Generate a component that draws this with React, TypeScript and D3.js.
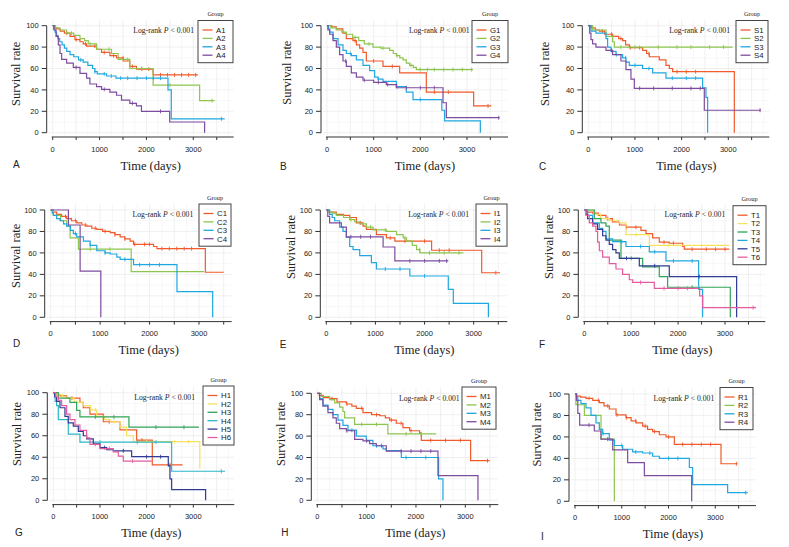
import React from "react";
import * as d3 from "d3";

type Pt = [number, number];

// ---------- DATA (time in days, survival in %) ----------
// Panel A
const A1: Pt[] = [[0,100],[40,98],[85,97],[160,95],[250,93],[369,90],[475,87],[582,85],[650,83],[723,81],[936,78],[1043,75],[1220,72],[1362,70],[1504,67],[1645,62],[1787,59.5],[2142,54],[3099,54]];
const A2: Pt[] = [[0,100],[60,98],[150,96],[298,93],[450,91],[582,88],[680,86],[759,83],[936,78],[1255,74],[1397,68.5],[1645,60],[2142,44.5],[3135,30],[3454,30]];
const A3: Pt[] = [[0,100],[20,97],[50,94],[80,91],[110,88],[150,85],[200,82],[250,79],[300,76],[370,73],[450,71],[550,68],[650,66],[750,63],[850,60],[900,57],[950,55],[1150,53],[1350,51],[2460,40],[2530,13],[3670,13]];
const A4: Pt[] = [[0,100],[28,96],[71,90],[120,82],[156,74],[191,68.5],[298,65],[440,61],[582,55.5],[723,51],[794,45.5],[936,43],[1043,40.5],[1220,38],[1362,35],[1468,30.5],[1645,27.5],[1787,25],[1894,20],[2496,10],[3241,0]];
const A1c = [300,500,700,900,1100,1300,1500,1700,1900,2050,2300,2450,2600,2750,2900,3050];
const A2c = [400,800,1200,1600,1900,2500,3400];
const A3c = [600,900,1100,1250,1450,1600,1800,2000,2150,2300,3600];
const A4c = [500,1100,1700,2300];

// Panel B
const G1: Pt[] = [[0,100],[100,99],[200,97],[340,93],[414,88],[557,86],[630,82],[700,79],[771,75],[843,67],[1200,62],[1557,56],[2128,38],[3143,25],[3521,25]];
const G2: Pt[] = [[0,100],[80,98],[200,96],[320,94],[414,92],[550,89],[680,86],[800,83],[986,80],[1150,79],[1343,77],[1420,74],[1486,72],[1560,70],[1629,68],[1700,65],[1771,63],[1850,61],[1914,59],[3129,59]];
const G3: Pt[] = [[0,100],[30,97],[57,94],[129,88],[236,82],[343,77],[414,74],[521,72],[629,68],[771,63],[914,58],[1021,52],[1093,50],[1200,48],[1486,43],[1700,38],[1843,31],[2460,21],[2521,11],[3286,0]];
const G4: Pt[] = [[0,100],[20,96],[57,92],[129,86],[200,80],[271,73],[343,67],[414,62],[521,56],[629,52],[771,49],[1000,47],[1271,45],[1486,42],[2486,28],[2557,14],[3700,14]];
const G1c = [600,1000,1400,2300,2600,3450];
const G2c = [600,900,1200,1500,1800,2000,2150,2300,2500,2700,2900,3100];
const G3c = [500,1100,1500,2000];
const G4c = [400,800,1100,1300,1700,2000,2300,3680];

// Panel C
const S1: Pt[] = [[0,100],[60,98],[150,96],[236,95],[350,92],[521,90],[650,88],[736,86],[800,82],[879,79.5],[1164,77],[1250,74],[1307,71],[1521,68],[1664,63],[1736,60],[1807,57],[3129,0]];
const S2: Pt[] = [[0,100],[93,96],[379,90],[521,85],[557,80],[3093,80]];
const S3: Pt[] = [[0,100],[57,95],[164,93],[379,88],[414,80],[486,76],[593,73],[736,70],[807,66],[879,63],[1164,60],[1379,56],[1664,51],[2450,42],[2521,33],[2557,0]];
const S4: Pt[] = [[0,100],[30,93],[57,87],[93,83],[164,80],[379,77],[521,73],[700,67],[807,59],[914,50],[986,41.5],[2486,21],[3700,21]];
const S1c = [300,500,700,900,1100,1300,1900,2100,2300];
const S2c = [700,1000,1500,1900,2200,2600,2900];
const S3c = [600,800,1000,1300,1800,2100,2300];
const S4c = [500,1100,1400,1800,2200,2400,3680];

// Panel D
const C1: Pt[] = [[0,100],[50,98],[122,96],[220,94],[324,92],[420,90],[527,88],[630,86],[730,85],[830,83],[932,82],[1050,80],[1203,79],[1300,77],[1405,75],[1500,73],[1608,71],[1676,68],[2081,66],[2149,64],[3128,42],[3500,42]];
const C2: Pt[] = [[0,100],[54,95],[200,90],[324,85],[392,74],[561,63.5],[1628,42.5],[3100,42.5]];
const C3: Pt[] = [[0,100],[30,97],[54,95],[120,92],[189,90],[260,87],[324,85],[400,81],[459,78],[527,75],[662,71],[797,67],[932,62],[1100,60],[1203,59],[1338,56],[1405,54],[1676,49],[2554,24],[3277,0]];
const C4: Pt[] = [[0,100],[358,86],[595,43],[1014,0]];
const C1c = [300,500,700,900,1100,1300,1500,1700,1900,2000,2250,2400,2550,2700,2850];
const C2c = [800,1200];
const C3c = [500,800,1100,1500,1800,2000,2200];
const C4c: number[] = [];

// Panel E
const I1: Pt[] = [[0,100],[60,98],[204,96],[350,95],[476,93],[612,88],[748,85],[816,82],[1020,77],[1224,74],[1395,71],[2143,62.5],[3163,41.5],[3537,41.5]];
const I2: Pt[] = [[0,100],[50,98],[120,97],[204,95],[350,93],[476,91],[580,89],[680,87],[816,84],[952,81.5],[1224,80],[1429,77],[1565,74],[1633,71],[1750,67],[1837,63],[1905,60],[2789,60]];
const I3: Pt[] = [[0,100],[68,96],[120,93],[170,90],[272,84],[340,80],[408,74.5],[476,66],[544,63],[680,57.5],[918,51],[1020,45],[1701,38.5],[2483,26],[2585,13],[3299,0]];
const I4: Pt[] = [[0,100],[30,94],[68,88],[306,84],[408,75],[1156,65.5],[1395,52.5],[2483,52.5]];
const I1c = [700,1300,1600,2000,2300,2500,3450];
const I2c = [500,900,1200,1600,1900,2100,2400,2700];
const I3c = [1200,1500,2000];
const I4c = [500,700,900,1700,2000,2300,2450];

// Panel F
const T1: Pt[] = [[0,100],[60,98],[178,97],[300,95],[462,92],[600,89],[750,86],[888,84],[1208,81],[1315,78],[1457,74],[1599,70],[1812,69],[2097,66],[2132,63.5],[3092,63.5]];
const T2: Pt[] = [[0,100],[200,96],[350,92],[533,90],[750,88],[888,77],[1386,67],[3092,67]];
const T3: Pt[] = [[0,100],[213,92],[355,88],[462,85],[533,72],[782,55],[1244,47],[1599,38],[1777,28],[3113,0]];
const T4: Pt[] = [[0,100],[71,95],[178,88],[320,83],[391,80],[462,73],[604,70.5],[888,66],[1386,61],[1741,52.5],[2438,26],[2523,0]];
const T5: Pt[] = [[0,100],[40,96],[71,92],[178,87],[284,82],[391,76],[462,72],[533,68],[604,63],[675,60],[746,55],[1173,48],[1812,38],[3248,0]];
const T6: Pt[] = [[0,100],[36,95],[107,88],[178,85],[249,80],[284,70],[320,62],[391,56],[533,50],[675,45],[817,40],[960,35],[1031,32.5],[1493,27],[2460,20],[2523,9],[3660,9]];
const T1c = [500,900,1100,1700,1900,2300,2600,2800,3000];
const T2c = [700,1100,1800,2500];
const T3c = [1000,2300];
const T4c = [800,1200,1500,1900,2300];
const T5c = [900,1500,2450];
const T6c = [1200,1700,2000,2200,3600];

// Panel G
const H1: Pt[] = [[0,100],[60,98],[143,97],[286,95],[571,91],[643,86],[786,80],[1071,73],[1429,65.5],[1786,56],[2121,33],[2771,33]];
const H2: Pt[] = [[0,100],[80,98],[200,96],[286,95],[450,91],[643,88],[800,84],[929,78],[1100,75],[1214,73],[1429,68],[1571,60],[1714,54.5],[3140,30],[3145,30]];
const H3: Pt[] = [[0,100],[107,95],[357,91],[500,83.5],[571,77.5],[1621,68],[3121,68]];
const H4: Pt[] = [[0,100],[40,92],[71,88],[107,75],[321,61.5],[571,54],[2536,27],[3679,27]];
const H5: Pt[] = [[0,100],[30,96],[71,92],[143,86],[250,78],[321,72],[429,69],[536,64],[643,60],[714,57],[857,52.5],[1000,49],[1143,47],[1286,46],[1679,40.5],[2464,32],[2500,20],[2536,10],[3264,0]];
const H6: Pt[] = [[0,100],[50,96],[107,93],[179,88],[286,80],[357,75],[464,70],[571,65],[714,58],[786,52],[1000,48],[1286,45],[1393,41],[1500,36.5],[2110,36.5]];
const H1c = [400,1200,1900,2500];
const H2c = [500,900,1300,2000,2600,2900];
const H3c = [900,1300,2200,2800];
const H4c = [1000,1800,2200,3600];
const H5c = [1100,1500,2000,2300];
const H6c = [900,1200,1700];

// Panel H
const M1: Pt[] = [[0,100],[40,98],[120,96],[250,95],[400,92],[588,90],[700,88],[791,86],[926,82],[1100,80],[1264,79],[1380,77],[1466,75],[1601,72],[1736,68],[1872,65],[2074,63],[2108,56],[3108,37],[3493,37]];
const M2: Pt[] = [[0,100],[81,97],[250,94],[351,91],[453,87],[520,83],[554,77],[757,71],[1430,62],[2412,62]];
const M3: Pt[] = [[0,100],[47,95],[115,89],[216,85],[318,80],[419,75],[520,70],[622,65.5],[791,60],[993,56],[1128,51],[1331,48],[1399,46.5],[1703,40],[2459,20],[2547,0]];
const M4: Pt[] = [[0,100],[47,94],[115,88],[216,82],[318,77],[385,72],[453,67],[588,65],[757,57],[926,55.5],[1061,53],[1196,51],[1399,46],[2446,23],[3257,0]];
const M1c = [300,600,900,1200,1500,1700,1900,2300,2600,2900,3450];
const M2c = [900,1200,1800,2100];
const M3c = [700,1200,1800,2200];
const M4c = [600,1000,1300,1700,1900,2100,2300];

// Panel I
const R1: Pt[] = [[0,100],[40,98],[120,97],[235,96],[380,94],[520,92],[620,89],[734,86],[877,80.5],[1090,78],[1200,75],[1304,73],[1447,70],[1550,67],[1661,65],[1803,62],[1946,60],[2124,53],[3122,35],[3478,35]];
const R2: Pt[] = [[0,100],[20,90],[200,80],[556,58],[841,0]];
const R3: Pt[] = [[0,100],[30,97],[60,94],[128,91],[235,87],[342,80],[449,73],[520,67],[592,63],[734,57],[841,52],[1019,48.5],[1233,46],[1447,45],[1661,42],[1803,40],[2445,31.5],[2516,15.5],[3264,8],[3692,8]];
const R4: Pt[] = [[0,100],[30,94],[60,82],[100,71],[413,65.5],[556,58],[806,48],[1126,36],[1483,24],[2495,0]];
const R1c = [300,500,700,900,1100,1300,1500,1700,2000,2300,2500,2700,2900,3450];
const R2c: number[] = [];
const R3c = [600,1000,1300,1600,2000,2200,3650];
const R4c = [300,700];

const xTicks = [0, 500, 1000, 1500, 2000, 2500, 3000, 3500];
const xLabels = [0, 1000, 2000, 3000];
const yTicks = [0, 20, 40, 60, 80, 100];

// ---------- STYLE ----------
const RED = "#F15A2B";
const LGREEN = "#8DC54F";
const CYAN = "#1FA7E1";
const PURPLE = "#7D4C9F";
const YELLOW = "#F5E15E";
const DGREEN = "#2FA457";
const NAVY = "#2F3B94";
const PINK = "#E45C9E";
const TEAL = "#2BB7C8";

interface Curve { name: string; color: string; steps: Pt[]; cens: number[] }
interface Panel {
  letter: string; curves: Curve[];
  x0: number; x3: number; y100: number; y0: number;
  leg: [number, number, number]; lrX: number; lrY: number;
  ylab: [number, number]; let: [number, number];
}

const mk = (names: string[], colors: string[], steps: Pt[][], cens: number[][]): Curve[] =>
  names.map((n, i) => ({ name: n, color: colors[i], steps: steps[i], cens: cens[i] }));

const C4col = [RED, LGREEN, CYAN, PURPLE];

const PANELS: Panel[] = [
  { letter: "A", curves: mk(["A1","A2","A3","A4"], C4col, [A1,A2,A3,A4], [A1c,A2c,A3c,A4c]),
    x0: 52.7, x3: 193.3, y100: 25.7, y0: 132.7, leg: [198, 20.5, 35], lrX: 194, lrY: 33.3, ylab: [20, 73.8], let: [13, 168.3] },
  { letter: "B", curves: mk(["G1","G2","G3","G4"], C4col, [G1,G2,G3,G4], [G1c,G2c,G3c,G4c]),
    x0: 327, x3: 467, y100: 25.7, y0: 132.7, leg: [472, 20.5, 36], lrX: 469.7, lrY: 33.3, ylab: [291, 72.7], let: [280, 170] },
  { letter: "C", curves: mk(["S1","S2","S3","S4"], C4col, [S1,S2,S3,S4], [S1c,S2c,S3c,S4c]),
    x0: 588.3, x3: 728.3, y100: 25.7, y0: 132.7, leg: [736, 20.5, 32], lrX: 730, lrY: 33.3, ylab: [549, 73.8], let: [539, 170] },
  { letter: "D", curves: mk(["C1","C2","C3","C4"], C4col, [C1,C2,C3,C4], [C1c,C2c,C3c,C4c]),
    x0: 50.7, x3: 199, y100: 210, y0: 317.3, leg: [199, 204, 32], lrX: 193.3, lrY: 216.7, ylab: [19.5, 255.8], let: [13, 346.7] },
  { letter: "E", curves: mk(["I1","I2","I3","I4"], C4col, [I1,I2,I3,I4], [I1c,I2c,I3c,I4c]),
    x0: 326.3, x3: 473.7, y100: 210, y0: 317.3, leg: [476, 204, 31], lrX: 469, lrY: 216.7, ylab: [294.7, 247], let: [279.7, 348.3] },
  { letter: "F", curves: mk(["T1","T2","T3","T4","T5","T6"], [RED, YELLOW, DGREEN, CYAN, NAVY, PINK], [T1,T2,T3,T4,T5,T6], [T1c,T2c,T3c,T4c,T5c,T6c]),
    x0: 584.3, x3: 725, y100: 210, y0: 317.3, leg: [733, 205.7, 33], lrX: 725.3, lrY: 216.7, ylab: [552.7, 246.8], let: [539, 348.3] },
  { letter: "G", curves: mk(["H1","H2","H3","H4","H5","H6"], [RED, YELLOW, DGREEN, TEAL, NAVY, PINK], [H1,H2,H3,H4,H5,H6], [H1c,H2c,H3c,H4c,H5c,H6c]),
    x0: 53.3, x3: 193.3, y100: 392.7, y0: 500.3, leg: [203, 386, 31], lrX: 195, lrY: 400, ylab: [20.7, 434], let: [15, 536] },
  { letter: "H", curves: mk(["M1","M2","M3","M4"], C4col, [M1,M2,M3,M4], [M1c,M2c,M3c,M4c]),
    x0: 317.3, x3: 465.3, y100: 393.3, y0: 500.3, leg: [462, 387, 34], lrX: 459.7, lrY: 400.5, ylab: [284.7, 433.8], let: [281.3, 536] },
  { letter: "I", curves: mk(["R1","R2","R3","R4"], C4col, [R1,R2,R3,R4], [R1c,R2c,R3c,R4c]),
    x0: 575, x3: 715.3, y100: 394, y0: 501.3, leg: [720, 387.5, 33], lrX: 714.3, lrY: 400.7, ylab: [541, 434.5], let: [541, 540] },
];

const SERIF = "'Liberation Serif', 'Times New Roman', serif";
const SANS = "'Liberation Sans', Arial, sans-serif";

function survAt(steps: Pt[], t: number): number {
  let v = steps[0][1];
  for (const s of steps) { if (s[0] <= t) v = s[1]; else break; }
  return v;
}

function PanelView({ p }: { p: Panel }) {
  const x = d3.scaleLinear().domain([0, 3000]).range([p.x0, p.x3]);
  const y = d3.scaleLinear().domain([0, 100]).range([p.y0, p.y100]);
  const xEnd = p.x0 + 181;
  const line = d3.line<Pt>().x(d => x(d[0])).y(d => y(d[1])).curve(d3.curveStepAfter);
  const gridX = d3.range(0, 3751, 250);
  const gridY = d3.range(0, 101, 10);
  const axY = p.y0 + 4.3;
  const yAxX = p.x0 - 6;
  const [lx, ly, lw] = p.leg;
  const n = p.curves.length;
  const lh = 17 + (n - 1) * 8.4;
  return (
    <g>
      {/* grid */}
      {gridX.filter(g => x(g) <= xEnd).map(g => (
        <line key={"gx" + g} x1={x(g)} x2={x(g)} y1={p.y100 - 6} y2={p.y0 + 2}
          stroke={g % 500 === 0 ? "#e6e6e6" : "#f2f2f2"} strokeWidth={0.6} />
      ))}
      {gridY.map(g => (
        <line key={"gy" + g} x1={p.x0 - 4} x2={xEnd} y1={y(g)} y2={y(g)}
          stroke={g % 20 === 0 ? "#e6e6e6" : "#f2f2f2"} strokeWidth={0.6} />
      ))}
      {/* y axis */}
      <line x1={yAxX} x2={yAxX} y1={y(0)} y2={y(100)} stroke="#333" strokeWidth={1} />
      {yTicks.map(t => (
        <g key={"yt" + t}>
          <line x1={yAxX - 5} x2={yAxX} y1={y(t)} y2={y(t)} stroke="#333" strokeWidth={1} />
          <text x={p.x0 - 14} y={y(t) + 2.6} fontSize={7.5} fontFamily={SANS} textAnchor="end" fill="#222">{t}</text>
        </g>
      ))}
      {/* x axis */}
      <line x1={p.x0 - 1} x2={xEnd} y1={axY} y2={axY} stroke="#333" strokeWidth={1} />
      {xTicks.map(t => (
        <line key={"xt" + t} x1={x(t)} x2={x(t)} y1={axY} y2={axY + 3} stroke="#333" strokeWidth={1} />
      ))}
      {xLabels.map(t => (
        <text key={"xl" + t} x={x(t)} y={p.y0 + 19} fontSize={7.5} fontFamily={SANS} textAnchor="middle" fill="#222">{t}</text>
      ))}
      {/* curves */}
      {p.curves.map(c => (
        <g key={c.name}>
          <path d={line(c.steps) || ""} fill="none" stroke={c.color} strokeWidth={1.2} />
          {c.cens.map(t => (
            <line key={t} x1={x(t)} x2={x(t)} y1={y(survAt(c.steps, t)) - 2} y2={y(survAt(c.steps, t)) + 2}
              stroke={c.color} strokeWidth={0.9} />
          ))}
        </g>
      ))}
      {/* log-rank */}
      <text x={p.lrX} y={p.lrY} fontSize={7.7} fontFamily={SERIF} textAnchor="end" fill="#222">
        Log-rank <tspan fontStyle="italic">P</tspan> {"< 0.001"}
      </text>
      {/* legend */}
      <text x={lx + lw / 2} y={ly - 4.3} fontSize={6.3} fontFamily={SERIF} textAnchor="middle" fill="#222">Group</text>
      <rect x={lx} y={ly} width={lw} height={lh} fill="white" stroke="#444" strokeWidth={1} />
      {p.curves.map((c, i) => (
        <g key={"lg" + c.name}>
          <line x1={lx + 4.5} x2={lx + 14.5} y1={ly + 9.5 + i * 8.4} y2={ly + 9.5 + i * 8.4} stroke={c.color} strokeWidth={1.3} />
          <text x={lx + 18} y={ly + 9.5 + i * 8.4 + 2.8} fontSize={7.8} fontFamily={SANS} fill="#222">{c.name}</text>
        </g>
      ))}
      {/* axis titles */}
      <text transform={`translate(${p.ylab[0]},${p.ylab[1]}) rotate(-90)`} fontSize={12.5} fontFamily={SERIF}
        textAnchor="middle" fill="#222">Survival rate</text>
      <text x={p.x0 + 98} y={p.y0 + 37} fontSize={12.5} fontFamily={SERIF} textAnchor="middle" fill="#222">Time (days)</text>
      <text x={p.let[0]} y={p.let[1]} fontSize={10} fontFamily={SANS} fill="#222">{p.letter}</text>
    </g>
  );
}

export default function App() {
  return (
    <svg width={789} height={547} style={{ position: "absolute", left: 0, top: 0, background: "white" }}>
      <rect x={0} y={0} width={789} height={547} fill="white" />
      {PANELS.map(p => <PanelView key={p.letter} p={p} />)}
    </svg>
  );
}
